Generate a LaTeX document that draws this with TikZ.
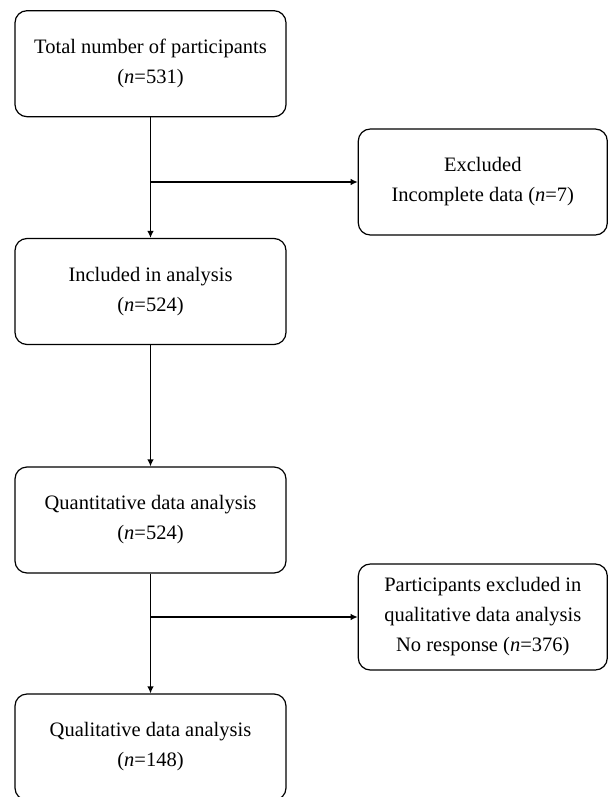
\documentclass[tikz,border=0pt]{standalone}
\usepackage{fontspec}
\setmainfont{Liberation Serif}
\usepackage{tikz}
\usetikzlibrary{shapes.geometric, arrows.meta}

\tikzset{
    flowbox/.style={draw, rounded corners=12pt, line width=1.2pt, align=center,
        minimum width=271pt, minimum height=106pt, inner sep=0pt,
        font=\fontsize{20.5}{30}\selectfont},
    sidebox/.style={flowbox, minimum width=249pt}
}

\begin{document}
\begin{tikzpicture}[x=1pt, y=-1pt, >={Latex[length=7pt,width=6.5pt]}, line width=1.2pt]
        \useasboundingbox (0,0) rectangle (608,797);
        \clip (0,0) rectangle (608,797);

        % Main column
        \node[flowbox] (total) at (150.5,63.7) {Total number of participants\\(\textit{n}=531)};
        \node[flowbox] (incl) at (150.5,291.5) {Included in analysis\\(\textit{n}=524)};
        \node[flowbox] (quant) at (150.5,520) {Quantitative data analysis\\(\textit{n}=524)};
        \node[flowbox] (qual) at (150.5,747) {Qualitative data analysis\\(\textit{n}=148)};

        % Exclusion boxes
        \node[sidebox] (excl) at (482.8,182) {Excluded\\Incomplete data (\textit{n}=7)};
        \node[sidebox] (noresp) at (482.8,617) {Participants excluded in\\qualitative data analysis\\No response (\textit{n}=376)};

        % Arrows down
        \draw[->] (total) -- (incl);
        \draw[->] (incl) -- (quant);
        \draw[->] (quant) -- (qual);

        % Arrows to the side
        \coordinate (split1) at (total.south |- excl.west);
        \coordinate (split2) at (quant.south |- noresp.west);
        \draw[->] (split1) -- (excl.west);
        \draw[->] (split2) -- (noresp.west);
    \end{tikzpicture}
\end{document}
